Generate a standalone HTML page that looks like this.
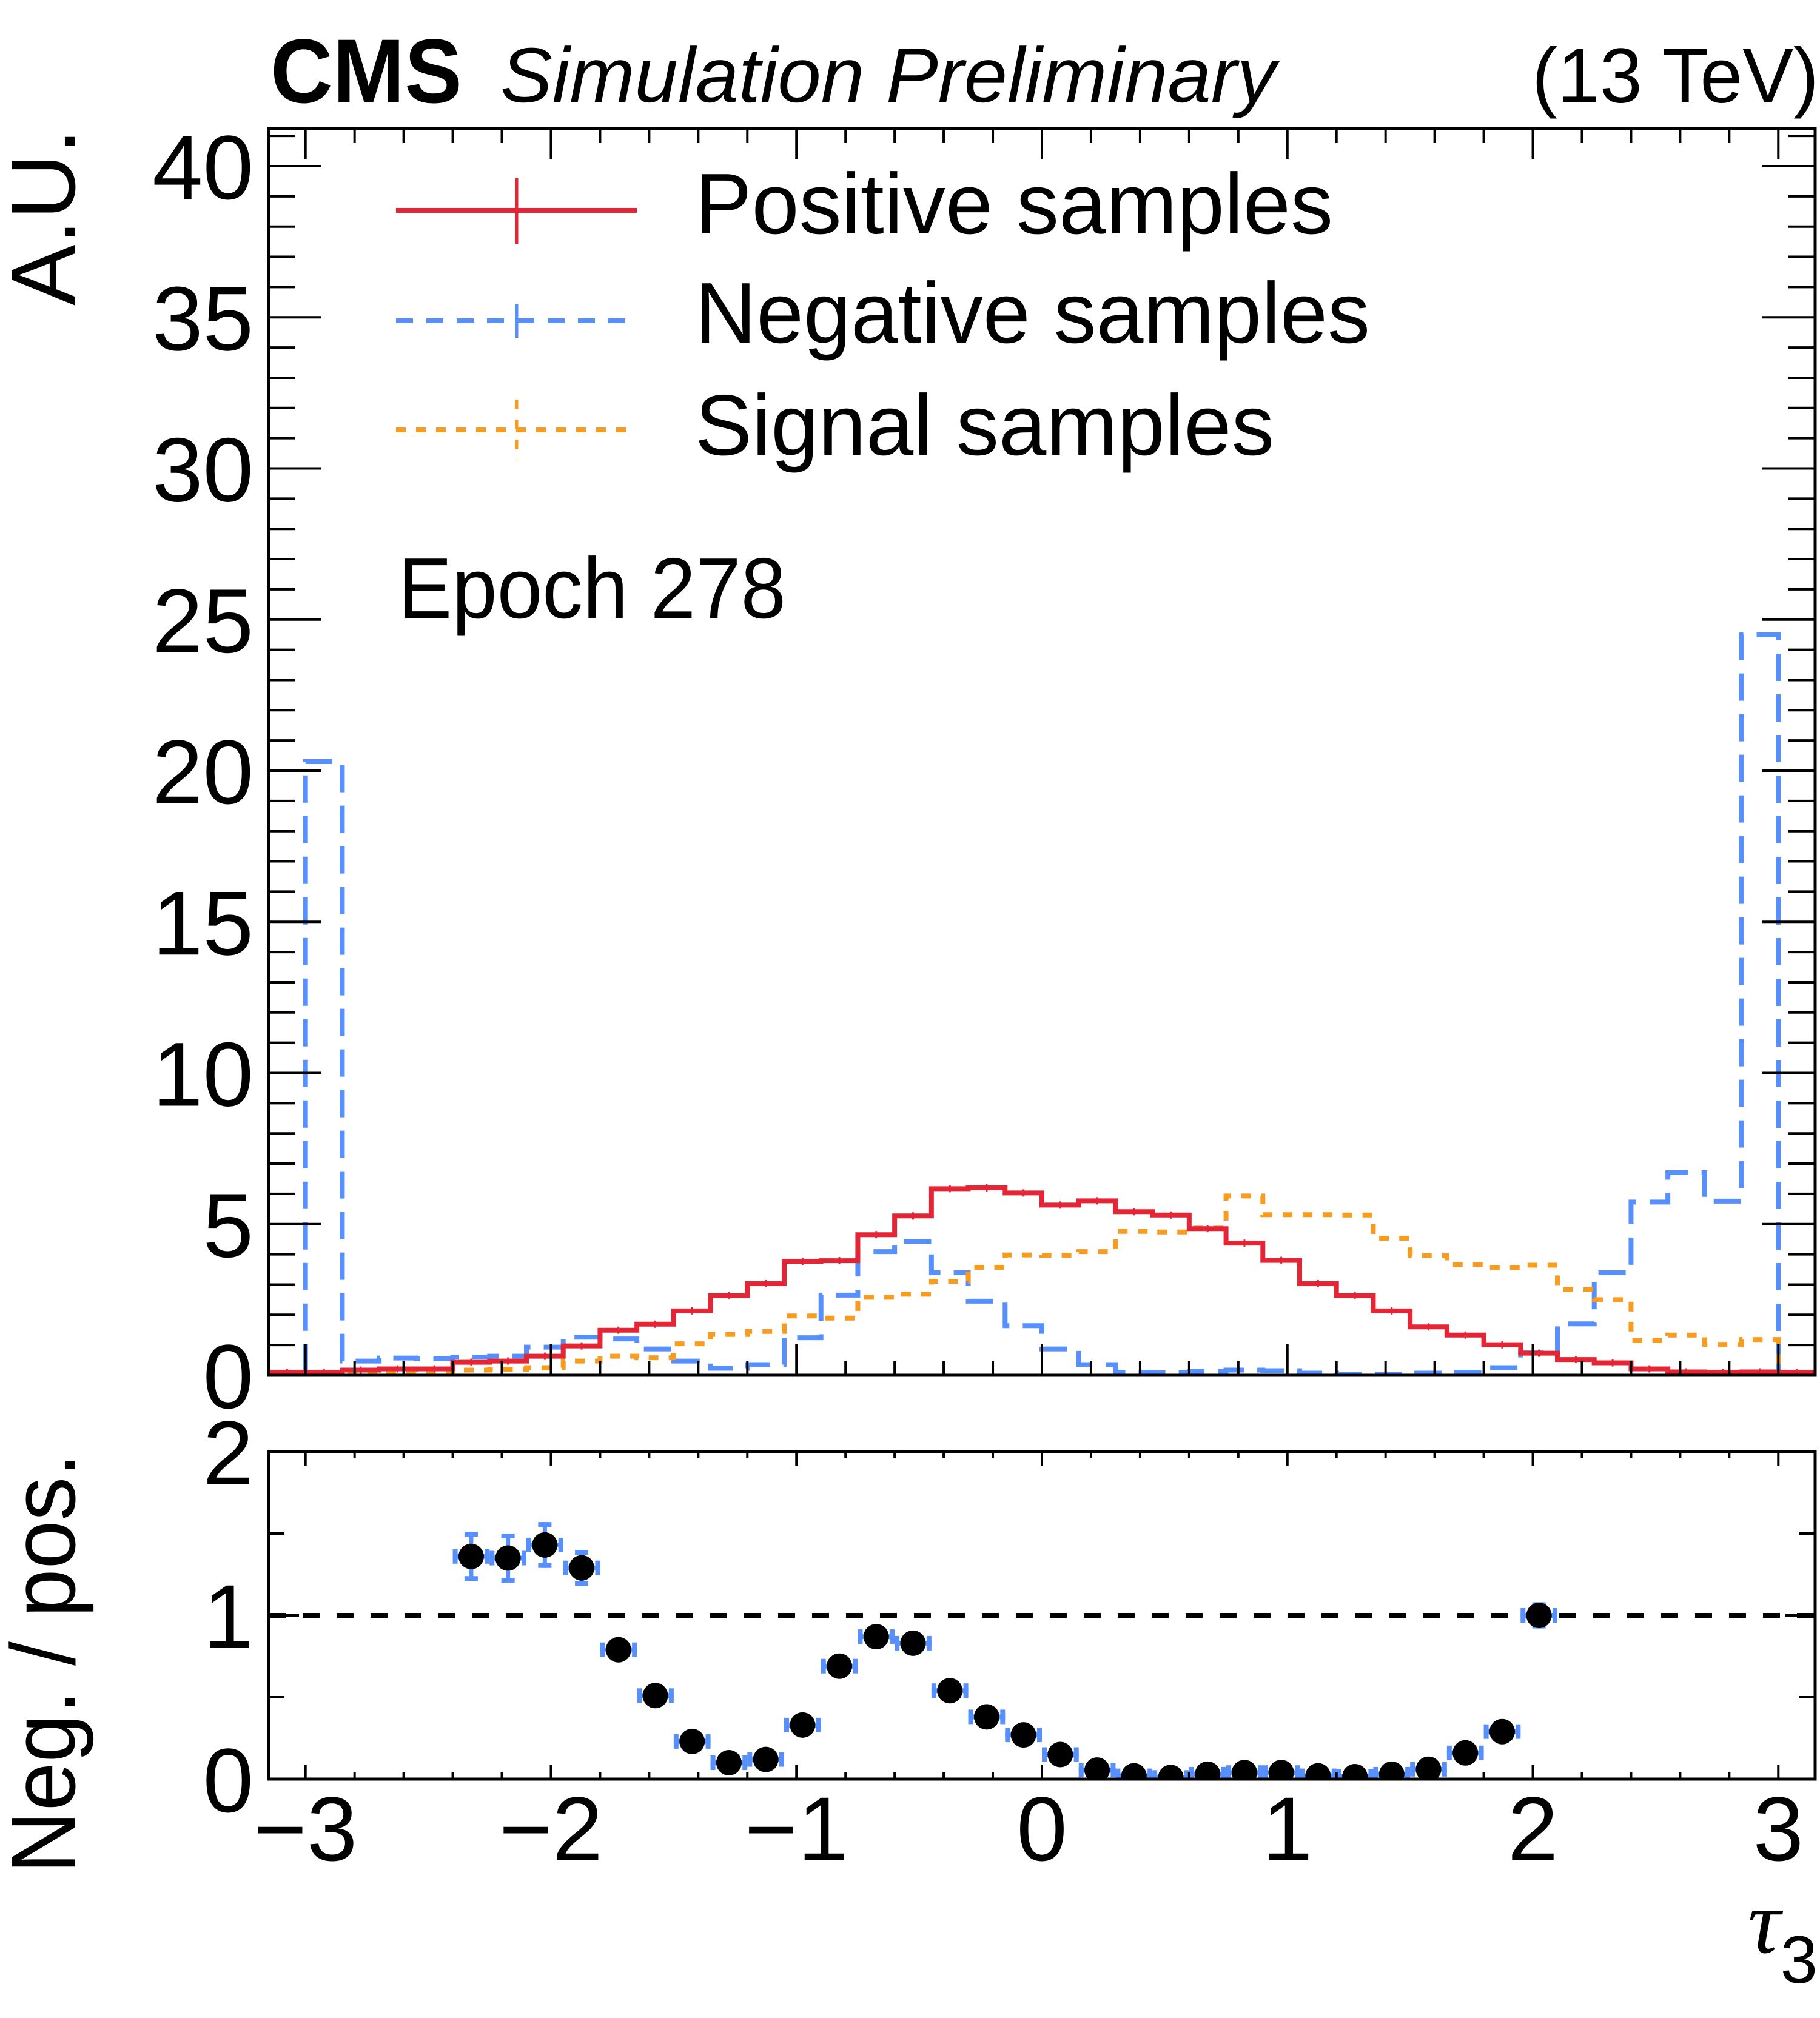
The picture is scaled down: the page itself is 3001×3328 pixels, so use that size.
<!DOCTYPE html>
<html><head><meta charset="utf-8"><style>
html,body{margin:0;padding:0;background:#fff;}
svg{display:block;font-family:"Liberation Sans",Arial,sans-serif;}
</style></head><body>
<svg id="chart" width="3001" height="3328" viewBox="0 0 3001 3328" xmlns="http://www.w3.org/2000/svg">
<defs>
<clipPath id="clipTop"><rect x="443" y="212" width="2550" height="2056"/></clipPath>
<clipPath id="clipBot"><rect x="443" y="2394" width="2550" height="540"/></clipPath>
</defs>
<g id="gTop"></g>
<g id="gBot"></g>
<text x="446" y="169" font-size="150" font-weight="bold" textLength="316" lengthAdjust="spacingAndGlyphs">CMS</text>
<text x="825" y="168" font-size="128" font-style="italic" textLength="1279" lengthAdjust="spacingAndGlyphs">Simulation Preliminary</text>
<text x="2526" y="169" font-size="128" textLength="473" lengthAdjust="spacingAndGlyphs">(13 TeV)</text>
<text transform="translate(123,212) rotate(-90)" text-anchor="end" font-size="150">A.U.</text>
<text transform="translate(123,2396) rotate(-90)" text-anchor="end" font-size="150" textLength="694" lengthAdjust="spacingAndGlyphs">Neg. / pos.</text>
<text x="2882" y="3220" font-size="150" font-family="Liberation Serif, serif" font-style="italic">τ<tspan font-size="110" dy="50" font-family="Liberation Sans, sans-serif" font-style="normal">3</tspan></text>
<g>
  <g>
    <line x1="653" y1="347" x2="1050" y2="347" stroke="#e42536" stroke-width="8"/>
    <line x1="852" y1="294" x2="852" y2="402" stroke="#e42536" stroke-width="5"/>
    <text x="1146" y="385" font-size="142" textLength="1052" lengthAdjust="spacingAndGlyphs">Positive samples</text>
  </g>
  <g>
    <line x1="653" y1="529" x2="1050" y2="529" stroke="#5790fc" stroke-width="8" stroke-dasharray="28 22"/>
    <line x1="852" y1="501" x2="852" y2="557" stroke="#5790fc" stroke-width="5"/>
    <text x="1146" y="565" font-size="142" textLength="1113" lengthAdjust="spacingAndGlyphs">Negative samples</text>
  </g>
  <g>
    <line x1="653" y1="709" x2="1040" y2="709" stroke="#f89c20" stroke-width="8" stroke-dasharray="16 17"/>
    <line x1="852" y1="659" x2="852" y2="759" stroke="#f89c20" stroke-width="5" stroke-dasharray="16 17"/>
    <text x="1146" y="750" font-size="142" textLength="955" lengthAdjust="spacingAndGlyphs">Signal samples</text>
  </g>
</g>
<text x="656" y="1019" font-size="142" textLength="640" lengthAdjust="spacingAndGlyphs">Epoch 278</text>
</svg>
<script>
// ---- data ----
const binLow = -3.15;
const binWidth = 0.15;
const positive = [0.1,0.1,0.17,0.21,0.21,0.43,0.47,0.63,0.97,1.49,1.69,2.13,2.63,3.03,3.77,3.79,4.65,5.27,6.17,6.2,6.03,5.63,5.77,5.41,5.3,4.85,4.37,3.8,3.03,2.63,2.13,1.6,1.33,1.01,0.73,0.52,0.41,0.21,0.11,0.1,0.11,0.1];
const negative = [0,20.3,0.47,0.57,0.55,0.6,0.63,0.93,1.26,1.2,0.87,0.47,0.23,0.35,1.24,2.65,4.09,4.43,3.39,2.45,1.64,0.87,0.35,0.1,0.08,0.13,0.17,0.15,0.07,0.03,0.03,0.07,0.1,0.25,0.74,1.7,3.39,5.73,6.7,5.76,24.5,0];
const signal = [0.03,0.03,0.07,0.11,0.1,0.17,0.2,0.25,0.47,0.63,0.58,1.04,1.35,1.45,1.96,1.89,2.58,2.68,3.11,3.57,3.98,3.97,4.09,4.76,4.74,4.87,5.93,5.31,5.31,5.3,4.53,3.96,3.66,3.56,3.64,2.84,2.5,1.15,1.33,1.02,1.18,0];
const ratioBins = [5,6,7,8,9,10,11,12,13,14,15,16,17,18,19,20,21,22,23,24,25,26,27,28,29,30,31,32,33,34];
const ratioValues = [1.36,1.35,1.43,1.29,0.79,0.51,0.23,0.10,0.12,0.33,0.69,0.87,0.83,0.54,0.38,0.27,0.15,0.055,0.02,0.01,0.03,0.04,0.04,0.02,0.015,0.03,0.06,0.16,0.29,1.0];
const ratioErrors = [0.15,0.15,0.14,0.11,0.04,0.03,0.02,0.01,0.01,0.02,0.03,0.03,0.03,0.03,0.02,0.02,0.01,0.01,0.01,0.01,0.01,0.01,0.01,0.01,0.01,0.01,0.01,0.02,0.03,0.08];
const xTickLabels = ["\u22123","\u22122","\u22121","0","1","2","3"];
const xTickValues = [-3,-2,-1,0,1,2,3];
const yTickValues = [0,5,10,15,20,25,30,35,40];
const rTickValues = [0,1,2];

// ---- axes ----
const L=443,R=2993,T1=212,B1=2268,T2=2394,B2=2934;
const XMIN=-3.15,XMAX=3.15;
const x = v => L + (v-XMIN)/(XMAX-XMIN)*(R-L);
const yTop = v => B1 - v*49.85;
const yBot = v => B2 - v/2*(B2-T2);
const NS="http://www.w3.org/2000/svg";
function mk(tag, attrs, parent){const e=document.createElementNS(NS,tag);for(const k in attrs)e.setAttribute(k,attrs[k]);parent.appendChild(e);return e;}
const gTop=document.getElementById('gTop'), gBot=document.getElementById('gBot');

function histPath(vals){
  let d='M'+x(binLow)+','+yTop(vals[0]);
  for(let i=0;i<vals.length;i++){
    const x1=x(binLow+(i+1)*binWidth);
    d+=' V'+yTop(vals[i])+' H'+x1;
  }
  return d;
}
const hg=mk('g',{'clip-path':'url(#clipTop)'},gTop);


const pNeg=mk('path',{d:histPath(negative),fill:'none',stroke:'#5790fc','stroke-width':8,'stroke-dasharray':'45 22'},hg);


const pSig=mk('path',{d:histPath(signal),fill:'none',stroke:'#f89c20','stroke-width':8,'stroke-dasharray':'16 17'},hg);


const pPos=mk('path',{d:histPath(positive),fill:'none',stroke:'#e42536','stroke-width':8},hg);


for(let i=0;i<positive.length;i++){
  const cx=x(binLow+(i+0.5)*binWidth);
  const eb=mk('line',{x1:cx,x2:cx,y1:yTop(positive[i])-6,y2:yTop(positive[i])+6,stroke:'#e42536','stroke-width':3},hg);
  
  
}

// ratio
const rg=mk('g',{'clip-path':'url(#clipBot)'},gBot);


const ref=mk('line',{x1:L,x2:R,y1:yBot(1),y2:yBot(1),stroke:'#000','stroke-width':8,'stroke-dasharray':'28 28'},rg);


for(let j=0;j<ratioBins.length;j++){
  const k=ratioBins[j];
  const cx=x(binLow+(k+0.5)*binWidth), cy=yBot(ratioValues[j]);
  const hl=x(binLow+k*binWidth), hr=x(binLow+(k+1)*binWidth);
  const ey1=yBot(ratioValues[j]+ratioErrors[j]), ey2=yBot(ratioValues[j]-ratioErrors[j]);
  const g=mk('g',{},rg);
  
  
  mk('line',{x1:hl,x2:hr,y1:cy,y2:cy,stroke:'#5790fc','stroke-width':8},g);
  mk('line',{x1:hl+4,x2:hl+4,y1:cy-12,y2:cy+12,stroke:'#5790fc','stroke-width':8},g);
  mk('line',{x1:hr-4,x2:hr-4,y1:cy-12,y2:cy+12,stroke:'#5790fc','stroke-width':8},g);
  if(ey2-ey1>8){
    mk('line',{x1:cx,x2:cx,y1:ey1,y2:ey2,stroke:'#5790fc','stroke-width':7},g);
    mk('line',{x1:cx-11,x2:cx+11,y1:ey1+4,y2:ey1+4,stroke:'#5790fc','stroke-width':8},g);
    mk('line',{x1:cx-11,x2:cx+11,y1:ey2-4,y2:ey2-4,stroke:'#5790fc','stroke-width':8},g);
  }
  mk('circle',{cx:cx,cy:cy,r:21,fill:'#000'},g);
}

// frames & ticks
function frame(parent,T,B,name){
  const r=mk('rect',{x:L,y:T,width:R-L,height:B-T,fill:'none',stroke:'#000','stroke-width':5},parent);
  
  
}
frame(gTop,T1,B1,'main-frame');
frame(gBot,T2,B2,'ratio-frame');
function xticks(parent,T,B,maj,mn,name){
  const g=mk('g',{stroke:'#000','stroke-width':4},parent);
  
  
  for(let t=-3.0;t<=3.01;t+=0.2){
    const v=Math.round(t*10)/10;
    const isMaj=Math.abs(v-Math.round(v))<1e-6;
    const len=isMaj?maj:mn, xx=x(v);
    mk('line',{x1:xx,x2:xx,y1:B,y2:B-len},g);
    mk('line',{x1:xx,x2:xx,y1:T,y2:T+len},g);
  }
}
xticks(gTop,T1,B1,51,24,'main-x-ticks');
xticks(gBot,T2,B2,23,11,'ratio-x-ticks');
const yt=mk('g',{stroke:'#000','stroke-width':4},gTop);


for(let v=0;v<=41;v++){
  const len=(v%5===0)?87:44, yy=yTop(v);
  mk('line',{x1:L,x2:L+len,y1:yy,y2:yy},yt);
  mk('line',{x1:R,x2:R-len,y1:yy,y2:yy},yt);
}
const rt=mk('g',{stroke:'#000','stroke-width':4},gBot);


for(let v=0;v<=2.001;v+=0.5){
  const len=(Math.abs(v-Math.round(v))<1e-6)?50:26, yy=yBot(v);
  mk('line',{x1:L,x2:L+len,y1:yy,y2:yy},rt);
  mk('line',{x1:R,x2:R-len,y1:yy,y2:yy},rt);
}
// labels
for(const v of yTickValues){
  const t=mk('text',{x:418,y:yTop(v)+54,'text-anchor':'end','font-size':150},gTop);
  t.textContent=String(v);
  
  
}
for(const v of rTickValues){
  const t=mk('text',{x:418,y:yBot(v)+54,'text-anchor':'end','font-size':150},gBot);
  t.textContent=String(v);
  
  
}
for(let i=0;i<xTickValues.length;i++){
  const t=mk('text',{x:x(xTickValues[i]),y:3068,'text-anchor':'middle','font-size':150},gBot);
  t.textContent=xTickLabels[i];
  
  
}
</script>
</body></html>
